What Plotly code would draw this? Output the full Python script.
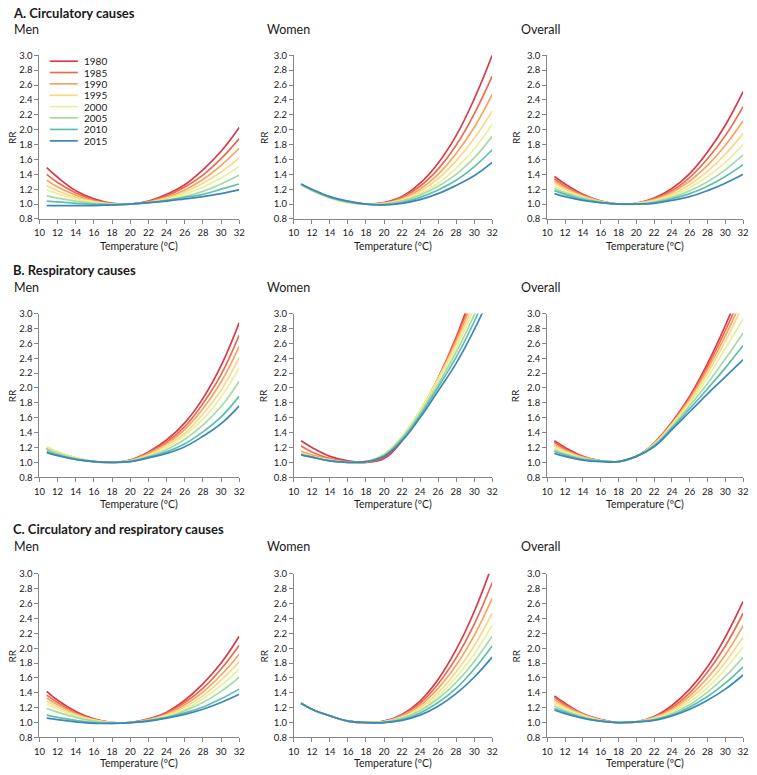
import plotly.graph_objects as go

# ---------------- data ----------------
TEMPS = [10.8, 12, 14, 16, 18, 20, 22, 24, 26, 28, 30, 32]
YEARS = ["1980", "1985", "1990", "1995", "2000", "2005", "2010", "2015"]
COLORS = ["#d73a48", "#ea6b50", "#f7a460", "#fdd68a", "#e9f09a", "#a8dba4", "#5fbfaa", "#3b86bc"]
X_TICKS = [10, 12, 14, 16, 18, 20, 22, 24, 26, 28, 30, 32]
Y_TICKS = [0.8, 1.0, 1.2, 1.4, 1.6, 1.8, 2.0, 2.2, 2.4, 2.6, 2.8, 3.0]

ROW_TITLES = ["A. Circulatory causes", "B. Respiratory causes", "C. Circulatory and respiratory causes"]
COL_TITLES = ["Men", "Women", "Overall"]

A_MEN = [
    [1.49, 1.36, 1.18, 1.07, 1.01, 1.00, 1.04, 1.13, 1.26, 1.46, 1.71, 2.03],
    [1.40, 1.29, 1.15, 1.05, 1.01, 1.00, 1.03, 1.11, 1.23, 1.39, 1.61, 1.88],
    [1.32, 1.23, 1.12, 1.04, 1.00, 1.00, 1.03, 1.09, 1.19, 1.33, 1.52, 1.75],
    [1.25, 1.18, 1.09, 1.03, 1.00, 1.00, 1.02, 1.08, 1.16, 1.28, 1.43, 1.62],
    [1.19, 1.14, 1.07, 1.03, 1.00, 1.00, 1.02, 1.06, 1.13, 1.23, 1.35, 1.51],
    [1.11, 1.08, 1.04, 1.01, 1.00, 1.00, 1.02, 1.05, 1.10, 1.17, 1.27, 1.39],
    [1.04, 1.03, 1.01, 1.00, 0.99, 1.00, 1.02, 1.05, 1.09, 1.13, 1.20, 1.27],
    [0.98, 0.98, 0.98, 0.98, 0.99, 1.00, 1.02, 1.04, 1.07, 1.10, 1.14, 1.19],
]
A_WOMEN = [
    [1.26, 1.19, 1.09, 1.03, 1.00, 1.02, 1.10, 1.28, 1.55, 1.92, 2.41, 3.00],
    [1.26, 1.19, 1.09, 1.03, 1.00, 1.01, 1.09, 1.24, 1.47, 1.79, 2.21, 2.72],
    [1.26, 1.19, 1.09, 1.03, 1.00, 1.01, 1.07, 1.20, 1.40, 1.68, 2.03, 2.47],
    [1.26, 1.18, 1.08, 1.02, 1.00, 1.01, 1.06, 1.17, 1.34, 1.58, 1.88, 2.25],
    [1.26, 1.18, 1.08, 1.02, 1.00, 1.00, 1.05, 1.14, 1.28, 1.48, 1.74, 2.07],
    [1.26, 1.19, 1.09, 1.03, 1.00, 1.00, 1.04, 1.12, 1.24, 1.40, 1.62, 1.91],
    [1.27, 1.19, 1.09, 1.03, 1.00, 0.99, 1.02, 1.09, 1.19, 1.32, 1.50, 1.73],
    [1.27, 1.20, 1.10, 1.04, 1.00, 0.99, 1.01, 1.06, 1.14, 1.25, 1.38, 1.56],
]
A_OVERALL = [
    [1.37, 1.27, 1.13, 1.04, 1.00, 1.01, 1.08, 1.21, 1.41, 1.70, 2.06, 2.51],
    [1.34, 1.24, 1.12, 1.04, 1.00, 1.01, 1.07, 1.18, 1.36, 1.61, 1.92, 2.31],
    [1.31, 1.22, 1.11, 1.04, 1.00, 1.01, 1.06, 1.16, 1.31, 1.52, 1.79, 2.12],
    [1.28, 1.20, 1.10, 1.03, 1.00, 1.01, 1.05, 1.13, 1.26, 1.44, 1.67, 1.95],
    [1.24, 1.17, 1.09, 1.03, 1.00, 1.01, 1.04, 1.11, 1.22, 1.37, 1.56, 1.80],
    [1.21, 1.15, 1.08, 1.03, 1.00, 1.00, 1.03, 1.09, 1.18, 1.30, 1.46, 1.66],
    [1.18, 1.13, 1.06, 1.02, 1.00, 1.00, 1.02, 1.07, 1.14, 1.24, 1.37, 1.53],
    [1.14, 1.10, 1.05, 1.02, 1.00, 1.00, 1.01, 1.05, 1.10, 1.18, 1.28, 1.40],
]
B_MEN = [
    [1.18, 1.12, 1.05, 1.01, 1.00, 1.03, 1.14, 1.30, 1.53, 1.86, 2.30, 2.88],
    [1.19, 1.13, 1.06, 1.01, 1.00, 1.03, 1.13, 1.27, 1.48, 1.79, 2.18, 2.71],
    [1.20, 1.14, 1.06, 1.01, 1.00, 1.02, 1.12, 1.25, 1.44, 1.72, 2.08, 2.56],
    [1.21, 1.14, 1.06, 1.01, 1.00, 1.02, 1.10, 1.23, 1.39, 1.65, 1.97, 2.41],
    [1.21, 1.14, 1.06, 1.01, 1.00, 1.02, 1.09, 1.20, 1.36, 1.58, 1.88, 2.27],
    [1.18, 1.12, 1.05, 1.01, 1.00, 1.02, 1.08, 1.17, 1.31, 1.50, 1.75, 2.09],
    [1.15, 1.10, 1.04, 1.01, 1.00, 1.01, 1.07, 1.14, 1.25, 1.41, 1.61, 1.89],
    [1.13, 1.09, 1.04, 1.01, 1.00, 1.01, 1.06, 1.12, 1.21, 1.35, 1.52, 1.76],
]
B_WOMEN = [
    [1.29, 1.20, 1.08, 1.02, 1.00, 1.05, 1.29, 1.66, 2.13, 2.68, 3.35, 4.10],
    [1.22, 1.14, 1.05, 1.01, 1.00, 1.07, 1.31, 1.68, 2.13, 2.66, 3.28, 4.00],
    [1.15, 1.10, 1.04, 1.00, 1.01, 1.09, 1.33, 1.69, 2.13, 2.63, 3.22, 3.90],
    [1.12, 1.08, 1.03, 1.00, 1.01, 1.11, 1.35, 1.70, 2.12, 2.59, 3.14, 3.80],
    [1.11, 1.07, 1.03, 1.00, 1.01, 1.11, 1.35, 1.69, 2.10, 2.54, 3.07, 3.70],
    [1.10, 1.07, 1.02, 1.00, 1.01, 1.10, 1.33, 1.66, 2.05, 2.48, 2.98, 3.55],
    [1.10, 1.07, 1.02, 1.00, 1.01, 1.09, 1.31, 1.63, 2.01, 2.41, 2.89, 3.45],
    [1.10, 1.07, 1.02, 1.00, 1.01, 1.08, 1.29, 1.60, 1.96, 2.33, 2.78, 3.30],
]
B_OVERALL = [
    [1.29, 1.20, 1.08, 1.02, 1.01, 1.08, 1.26, 1.54, 1.89, 2.33, 2.84, 3.42],
    [1.27, 1.18, 1.07, 1.02, 1.01, 1.08, 1.25, 1.53, 1.87, 2.29, 2.77, 3.32],
    [1.24, 1.16, 1.07, 1.02, 1.01, 1.08, 1.25, 1.52, 1.85, 2.25, 2.70, 3.22],
    [1.22, 1.15, 1.06, 1.02, 1.01, 1.08, 1.24, 1.51, 1.82, 2.20, 2.63, 3.12],
    [1.19, 1.13, 1.05, 1.02, 1.01, 1.08, 1.24, 1.50, 1.79, 2.14, 2.53, 2.93],
    [1.17, 1.11, 1.05, 1.02, 1.01, 1.08, 1.23, 1.48, 1.76, 2.06, 2.39, 2.74],
    [1.15, 1.10, 1.04, 1.02, 1.01, 1.08, 1.22, 1.46, 1.72, 1.99, 2.27, 2.57],
    [1.12, 1.08, 1.03, 1.01, 1.01, 1.08, 1.21, 1.44, 1.68, 1.92, 2.15, 2.38],
]
C_MEN = [
    [1.42, 1.30, 1.15, 1.05, 1.00, 1.00, 1.05, 1.14, 1.30, 1.52, 1.80, 2.16],
    [1.37, 1.27, 1.13, 1.04, 1.00, 1.00, 1.04, 1.13, 1.27, 1.46, 1.72, 2.04],
    [1.33, 1.24, 1.12, 1.04, 1.00, 1.00, 1.04, 1.11, 1.24, 1.41, 1.64, 1.92],
    [1.29, 1.21, 1.10, 1.03, 1.00, 1.00, 1.03, 1.10, 1.21, 1.36, 1.57, 1.82],
    [1.25, 1.18, 1.09, 1.03, 1.00, 1.00, 1.03, 1.09, 1.18, 1.32, 1.50, 1.72],
    [1.19, 1.14, 1.07, 1.02, 1.00, 1.00, 1.02, 1.07, 1.16, 1.27, 1.42, 1.61],
    [1.10, 1.07, 1.03, 1.00, 0.99, 1.00, 1.03, 1.07, 1.13, 1.21, 1.32, 1.45],
    [1.06, 1.04, 1.01, 0.99, 0.99, 1.00, 1.02, 1.06, 1.11, 1.18, 1.27, 1.38],
]
C_WOMEN = [
    [1.26, 1.18, 1.09, 1.02, 1.00, 1.02, 1.11, 1.29, 1.58, 1.98, 2.49, 3.12],
    [1.26, 1.18, 1.09, 1.02, 1.00, 1.02, 1.10, 1.26, 1.52, 1.87, 2.32, 2.88],
    [1.26, 1.18, 1.09, 1.02, 1.00, 1.01, 1.09, 1.23, 1.46, 1.77, 2.17, 2.67],
    [1.26, 1.18, 1.09, 1.02, 1.00, 1.01, 1.07, 1.20, 1.40, 1.68, 2.03, 2.47],
    [1.26, 1.18, 1.09, 1.02, 1.00, 1.01, 1.07, 1.18, 1.36, 1.61, 1.92, 2.31],
    [1.26, 1.18, 1.09, 1.02, 1.00, 1.01, 1.06, 1.16, 1.32, 1.54, 1.82, 2.16],
    [1.26, 1.18, 1.09, 1.02, 1.00, 1.00, 1.04, 1.13, 1.27, 1.46, 1.72, 2.03],
    [1.26, 1.18, 1.09, 1.02, 1.00, 1.00, 1.03, 1.10, 1.22, 1.39, 1.61, 1.88],
]
C_OVERALL = [
    [1.36, 1.26, 1.12, 1.04, 1.00, 1.01, 1.08, 1.23, 1.45, 1.75, 2.15, 2.63],
    [1.34, 1.24, 1.12, 1.04, 1.00, 1.01, 1.07, 1.20, 1.40, 1.68, 2.03, 2.47],
    [1.31, 1.22, 1.11, 1.03, 1.00, 1.01, 1.07, 1.18, 1.36, 1.60, 1.91, 2.30],
    [1.28, 1.20, 1.10, 1.03, 1.00, 1.01, 1.06, 1.16, 1.32, 1.53, 1.81, 2.15],
    [1.25, 1.18, 1.09, 1.03, 1.00, 1.01, 1.05, 1.14, 1.28, 1.47, 1.72, 2.02],
    [1.22, 1.16, 1.08, 1.02, 1.00, 1.01, 1.04, 1.12, 1.24, 1.41, 1.62, 1.88],
    [1.19, 1.14, 1.06, 1.02, 1.00, 1.01, 1.04, 1.10, 1.21, 1.35, 1.53, 1.75],
    [1.17, 1.12, 1.06, 1.02, 1.00, 1.01, 1.03, 1.09, 1.18, 1.30, 1.45, 1.64],
]

PANELS = [[A_MEN, A_WOMEN, A_OVERALL],
          [B_MEN, B_WOMEN, B_OVERALL],
          [C_MEN, C_WOMEN, C_OVERALL]]

# ---------------- layout geometry (pixels) ----------------
W, H = 757, 775
COL_X = [(34, 237), (292.5, 494), (550, 749)]
ROW_Y = [(50, 216), (312, 478), (576, 742)]
ROW_TITLE_Y = [7, 268, 531]
COL_TITLE_Y = [24, 286, 548]
COL_TITLE_X = [6, 263, 521]
RR_X = [6, 262, 518]
XTITLE_Y = [243, 505, 767.5]

FONT = "Lato"
AXIS_COLOR = "#868686"
TEXT_COLOR = "#1a1a1a"


def px_x(p):
    return p / W


def px_y(p):
    return 1 - p / H


fig = go.Figure()
annotations = []
shapes = []
layout_axes = {}

for r in range(3):
    for c in range(3):
        idx = r * 3 + c + 1
        sfx = "" if idx == 1 else str(idx)
        data = PANELS[r][c]
        for k, year in enumerate(YEARS):
            fig.add_trace(go.Scatter(
                x=TEMPS, y=data[k], mode="lines", name=year,
                line=dict(color=COLORS[k], width=1.7, shape="spline", smoothing=1.2),
                xaxis="x" + sfx, yaxis="y" + sfx, showlegend=False, hoverinfo="skip",
            ))
        x0, x1 = COL_X[c]
        y0, y1 = ROW_Y[r]
        layout_axes["xaxis" + sfx] = dict(
            domain=[px_x(x0), px_x(x1)], anchor="y" + sfx,
            range=[10, 32.0001], tickmode="array", tickvals=X_TICKS,
            ticktext=[str(t) for t in X_TICKS],
            showline=True, linecolor=AXIS_COLOR, linewidth=1,
            ticks="outside", ticklen=4, tickcolor=AXIS_COLOR, tickwidth=1,
            showgrid=False, zeroline=False, ticklabelstandoff=1,
            tickfont=dict(family=FONT, size=9.5, color=TEXT_COLOR),
        )
        layout_axes["yaxis" + sfx] = dict(
            domain=[px_y(y1), px_y(y0)], anchor="x" + sfx,
            range=[0.8, 3.0001], tickmode="array", tickvals=Y_TICKS,
            ticktext=["%.1f" % t for t in Y_TICKS],
            showline=True, linecolor=AXIS_COLOR, linewidth=1,
            ticks="outside", ticklen=4, tickcolor=AXIS_COLOR, tickwidth=1,
            showgrid=False, zeroline=False,
            tickfont=dict(family=FONT, size=9.5, color=TEXT_COLOR),
        )
        annotations.append(dict(
            text=COL_TITLES[c], x=px_x(COL_TITLE_X[c]), y=px_y(COL_TITLE_Y[r]),
            xref="paper", yref="paper", xanchor="left", yanchor="middle",
            showarrow=False, font=dict(family=FONT, size=12.5, color=TEXT_COLOR),
        ))
        annotations.append(dict(
            text="RR", x=px_x(RR_X[c]), y=px_y((y0 + y1) / 2),
            xref="paper", yref="paper", xanchor="center", yanchor="middle",
            textangle=-90, showarrow=False,
            font=dict(family=FONT, size=10, color=TEXT_COLOR),
        ))
        annotations.append(dict(
            text="Temperature (\u00baC)", x=px_x((x0 + x1) / 2), y=px_y(XTITLE_Y[r]),
            xref="paper", yref="paper", xanchor="center", yanchor="middle",
            showarrow=False, font=dict(family=FONT, size=10.5, color=TEXT_COLOR),
        ))
    annotations.append(dict(
        text="<b>" + ROW_TITLES[r] + "</b>", x=px_x(5), y=px_y(ROW_TITLE_Y[r]),
        xref="paper", yref="paper", xanchor="left", yanchor="middle",
        showarrow=False, font=dict(family=FONT, size=13, color=TEXT_COLOR),
    ))

# legend (top-left panel)
LEG_Y = [56, 67.5, 79, 90.6, 102, 113.5, 125.2, 136.8]
for k, year in enumerate(YEARS):
    shapes.append(dict(type="line", xref="paper", yref="paper",
                       x0=px_x(44.5), x1=px_x(73), y0=px_y(LEG_Y[k]), y1=px_y(LEG_Y[k]),
                       line=dict(color=COLORS[k], width=1.7)))
    annotations.append(dict(
        text=year, x=px_x(77), y=px_y(LEG_Y[k]), xref="paper", yref="paper",
        xanchor="left", yanchor="middle", showarrow=False,
        font=dict(family=FONT, size=10, color=TEXT_COLOR),
    ))

fig.update_layout(
    width=W, height=H, margin=dict(l=0, r=0, t=0, b=0),
    paper_bgcolor="white", plot_bgcolor="white",
    font=dict(family=FONT, color=TEXT_COLOR),
    annotations=annotations, shapes=shapes, showlegend=False,
    **layout_axes,
)

fig.write_html(
    "out.html",
    config={"displayModeBar": False, "staticPlot": True},
    post_script="document.body.style.margin='0px';document.body.style.padding='0px';"
                "document.body.style.overflow='hidden';",
)
